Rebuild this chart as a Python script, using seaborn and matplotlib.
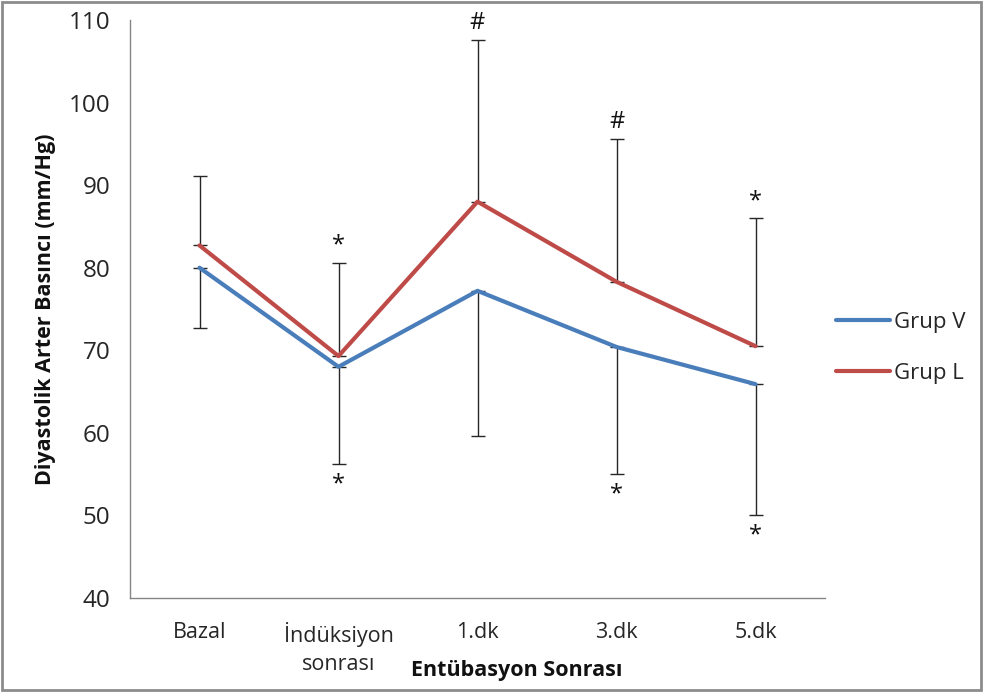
import numpy as np
import pandas as pd
import matplotlib
matplotlib.use('Agg')
import matplotlib.pyplot as plt
import seaborn as sns
from matplotlib.patches import Rectangle

# data
categories = ['Bazal', 'İndüksiyon\nsonrası', '1.dk', '3.dk', '5.dk']
grup_v = [80.0, 68.0, 77.2, 70.4, 65.9]
grup_l = [82.7, 69.3, 88.0, 78.3, 70.5]
sd_v = [7.3, 11.8, 17.6, 15.4, 15.9]   # drawn downward from Grup V
sd_l = [8.4, 11.3, 19.6, 17.3, 15.5]   # drawn upward from Grup L
marks_up = ['', '*', '#', '#', '*']
marks_down = ['', '*', '', '*', '*']

df = pd.DataFrame({
    'x': list(range(len(categories))) * 2,
    'value': grup_v + grup_l,
    'grup': ['Grup V'] * len(grup_v) + ['Grup L'] * len(grup_l),
})

sns.set_style('white')
plt.rcParams['font.family'] = ['Open Sans', 'DejaVu Sans']

fig = plt.figure(figsize=(9.83, 6.92), dpi=100)
ax = fig.add_axes([130 / 983, 1 - 598 / 692, 695 / 983, 578 / 692])

palette = {'Grup V': '#4A7EBB', 'Grup L': '#BE4B48'}
sns.lineplot(data=df, x='x', y='value', hue='grup', palette=palette,
             linewidth=3, ax=ax, legend=True)

xs = np.arange(len(categories))
ax.errorbar(xs, grup_l, yerr=[np.zeros(len(sd_l)), sd_l], fmt='none',
            ecolor='#262626', elinewidth=1, capsize=5, capthick=1, zorder=1)
ax.errorbar(xs, grup_v, yerr=[sd_v, np.zeros(len(sd_v))], fmt='none',
            ecolor='#262626', elinewidth=1, capsize=5, capthick=1, zorder=1)

for i in xs:
    if marks_up[i]:
        ax.text(i, grup_l[i] + sd_l[i] + 0.6, marks_up[i], ha='center', va='bottom',
                fontsize=17, color='#111111')
    if marks_down[i]:
        ax.text(i, grup_v[i] - sd_v[i] - 1.0, marks_down[i], ha='center', va='top',
                fontsize=17, color='#111111')

ax.set_xlim(-0.5, len(categories) - 0.5)
ax.set_ylim(40, 110)
ax.set_yticks(range(40, 111, 10))
ax.set_xticks(xs)
ax.set_xticklabels(categories, fontsize=15.5, color='#262626', linespacing=1.45)
ax.set_xticks(np.arange(-0.5, len(categories)), minor=True)
ax.tick_params(axis='x', which='major', length=0, pad=17)
ax.tick_params(axis='x', which='minor', length=6, color='#868686', width=1, direction='out')
ax.tick_params(axis='y', length=6, color='#868686', width=1, direction='out',
               labelsize=17.5, labelcolor='#262626', pad=8)

for side in ['top', 'right']:
    ax.spines[side].set_visible(False)
for side in ['left', 'bottom']:
    ax.spines[side].set_color('#868686')
    ax.spines[side].set_linewidth(1)

ax.set_xlabel('Entübasyon Sonrası', fontsize=15.5, fontweight='bold', color='#111111')
ax.xaxis.set_label_coords(0.557, -0.107)
ax.set_ylabel('Diyastolik Arter Basıncı (mm/Hg)', fontsize=15.5, fontweight='bold', color='#111111')
ax.yaxis.set_label_coords(-0.107, 0.5)

handles, labels = ax.get_legend_handles_labels()
ax.legend(handles, labels, loc='center left', bbox_to_anchor=(816 / 983, 1 - 348 / 692),
          bbox_transform=fig.transFigure, frameon=False, fontsize=16,
          handlelength=2.45, handletextpad=0.15, labelspacing=1.35)

fig.add_artist(Rectangle((0.002, 0.003), 0.996, 0.994, transform=fig.transFigure,
                         fill=False, edgecolor='#8c8c8c', linewidth=2))

fig.savefig('out.png', dpi=100)
